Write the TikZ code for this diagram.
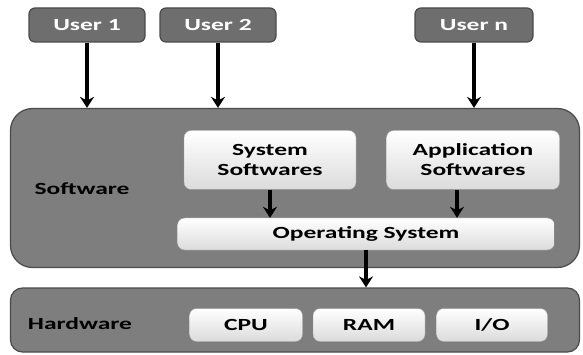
\documentclass[tikz,border=0pt]{standalone}
\usepackage{fontspec}
\setmainfont{Carlito}[FakeStretch=1.5]
\usepackage{tikz}
\usetikzlibrary{shapes.geometric, arrows}
\usetikzlibrary{arrows.meta}
\definecolor{userfill}{HTML}{6E6E6E}
\definecolor{panelfill}{HTML}{7E7E7E}
\definecolor{edgegray}{HTML}{4A4A4A}
\tikzstyle{user} = [rectangle, rounded corners=6pt, minimum width=116pt, minimum height=34pt, inner sep=0pt, text centered, draw=edgegray, line width=1.2pt, fill=userfill, text=white, font=\bfseries\fontsize{17}{20}\selectfont]
\tikzstyle{panel} = [rectangle, minimum width=569pt, inner sep=0pt, draw=edgegray, line width=1.2pt, fill=panelfill]
\tikzstyle{process} = [rectangle, rounded corners=7pt, inner sep=0pt, text centered, draw=gray!80, top color=white, bottom color=black!14, font=\bfseries\fontsize{17}{20}\selectfont]
\tikzstyle{tag} = [text=black, font=\bfseries\fontsize{17}{20}\selectfont]
\tikzstyle{arrow} = [line width=3.6pt,-{Stealth[length=11pt,width=14pt]}]

\begin{document}
\begin{tikzpicture}[x=1pt, y=-1pt, node distance=123pt]
                        \useasboundingbox (0,0) rectangle (583,355);

                        \node (1) [user] at (87,25) {User 1};
                        \node (2) [user, right of=1, xshift=8pt] {User 2};
                        \node (3) [user, minimum width=118pt] at (474,25) {User n};

                        \node (4) [panel, rounded corners=22pt, minimum height=159pt] at (295,188) {};
                        \node (5) [process, minimum width=172pt, minimum height=59pt, align=center] at (270,160) {System\\Softwares};
                        \node (6) [process, minimum width=173pt, minimum height=59pt, align=center] at (473,160) {Application\\Softwares};
                        \node (7) [process, minimum width=377pt, minimum height=32pt] at (366,234) {Operating System};
                        \node (8) [tag] at (82,189) {Software};

                        \node (9) [panel, rounded corners=12pt, minimum height=64pt] at (295,320) {};
                        \node (10) [process, minimum width=113pt, minimum height=33pt] at (246,325) {CPU};
                        \node (11) [process, minimum width=112pt, minimum height=33pt, right of=10] {RAM};
                        \node (12) [process, minimum width=111pt, minimum height=33pt, right of=11] {I/O};
                        \node (13) [tag] at (80,324) {Hardware};

                        \draw [arrow] (1) -- (1 |- 4.north);
                        \draw [arrow] (2) -- (2 |- 4.north);
                        \draw [arrow] (3) -- (3 |- 4.north);
                        \draw [arrow] (5) -- (5 |- 7.north);
                        \draw [arrow] ([xshift=-16pt]6.south) -- ([xshift=-16pt]6.south |- 7.north);
                        \draw [arrow] (7) -- (7 |- 9.north);
                    \end{tikzpicture}
\end{document}
